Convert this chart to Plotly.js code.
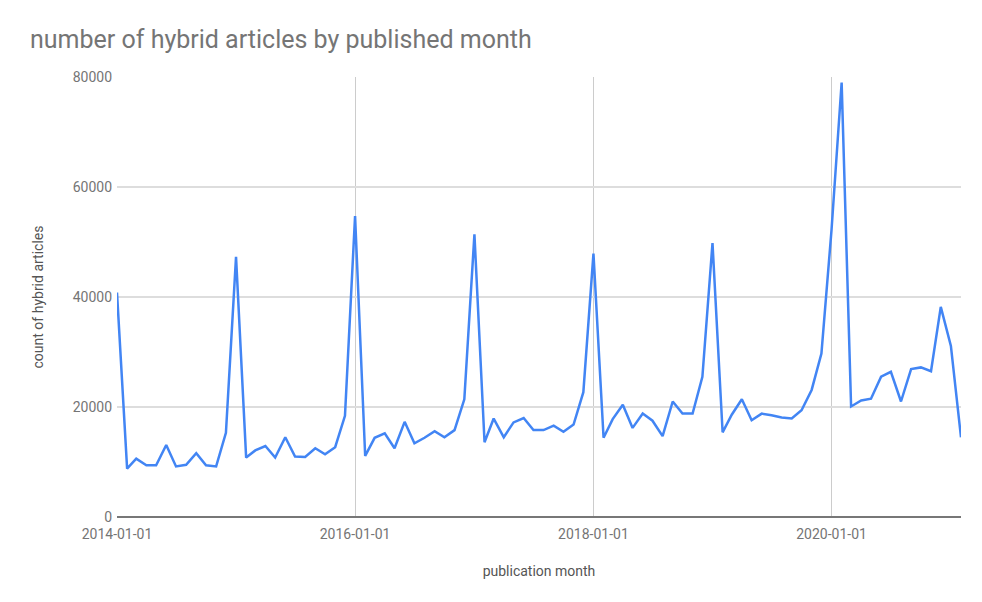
<!DOCTYPE html>
<html>
<head>
<meta charset="utf-8">
<script src="https://cdn.plot.ly/plotly-3.0.1.min.js"></script>
<style>
  html, body { margin: 0; padding: 0; background: #fff; }
  #chart { width: 982px; height: 602px; }
</style>
</head>
<body>
<div id="chart"></div>
<script>
// monthly counts, Jan 2014 .. Feb 2021
var startYear = 2014;
var hybridCounts = [
  40800, 8800, 10600, 9400, 9400, 13100, 9200, 9500, 11600, 9400, 9200, 15300,   // 2014
  47300, 10800, 12100, 12900, 10800, 14500, 11000, 10900, 12500, 11400, 12700, 18400, // 2015
  54700, 11100, 14400, 15200, 12500, 17300, 13400, 14400, 15600, 14500, 15800, 21400, // 2016
  51400, 13600, 17900, 14500, 17200, 18000, 15800, 15800, 16600, 15500, 16800, 22700, // 2017
  47900, 14400, 17800, 20400, 16200, 18800, 17500, 14700, 21000, 18800, 18800, 25500, // 2018
  49800, 15400, 18600, 21400, 17600, 18800, 18500, 18100, 17900, 19400, 23100, 29700, // 2019
  52200, 79000, 20100, 21200, 21500, 25500, 26400, 21000, 26900, 27200, 26500, 38200, // 2020
  31100, 14500  // 2021
];
var xTicks = ['2014-01-01', '2016-01-01', '2018-01-01', '2020-01-01'];
var yTicks = [0, 20000, 40000, 60000, 80000];

function pad(n) { return n < 10 ? '0' + n : '' + n; }
var months = hybridCounts.map(function (v, i) {
  return (startYear + Math.floor(i / 12)) + '-' + pad(i % 12 + 1) + '-01';
});

var trace = {
  x: months,
  y: hybridCounts,
  type: 'scatter',
  mode: 'lines',
  line: { color: '#4285f4', width: 2.5 },
  hoverinfo: 'x+y'
};

var tickFont = { family: 'Roboto, sans-serif', size: 14, color: '#757575' };
var axisTitleFont = { family: 'Roboto, sans-serif', size: 14, color: '#555555' };

var layout = {
  width: 982,
  height: 602,
  margin: { l: 117, r: 21, t: 77, b: 85 },
  paper_bgcolor: '#ffffff',
  plot_bgcolor: '#ffffff',
  showlegend: false,
  title: {
    text: 'number of hybrid articles by published month',
    xref: 'container', yref: 'container',
    x: 30 / 982, xanchor: 'left',
    y: 1 - 39 / 602, yanchor: 'middle',
    font: { family: 'Roboto, sans-serif', size: 25, color: '#757575' }
  },
  xaxis: {
    type: 'date',
    range: [months[0], months[months.length - 1]],
    tickvals: xTicks,
    ticktext: xTicks,
    tickfont: tickFont,
    showgrid: true,
    gridcolor: '#cccccc',
    gridwidth: 1,
    zeroline: false,
    showline: false,
    ticks: '',
    ticklabelstandoff: 7,
    title: { text: 'publication month', font: axisTitleFont, standoff: 25 }
  },
  yaxis: {
    range: [0, 80000],
    tickvals: yTicks,
    ticktext: yTicks.map(String),
    tickfont: tickFont,
    showgrid: true,
    gridcolor: '#dddddd',
    gridwidth: 1.5,
    zeroline: true,
    zerolinecolor: '#777777',
    zerolinewidth: 2,
    ticks: '',
    ticklabelstandoff: 4,
    title: { text: 'count of hybrid articles', font: axisTitleFont, standoff: 25 }
  }
};

Plotly.newPlot('chart', [trace], layout, { displayModeBar: false, staticPlot: true });
</script>
</body>
</html>
